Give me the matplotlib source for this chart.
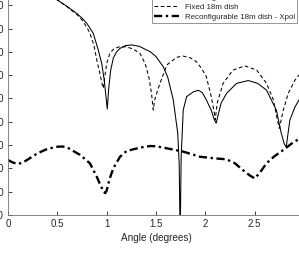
import numpy as np
import matplotlib
matplotlib.use('Agg')
import matplotlib.pyplot as plt

plt.rcParams['font.family'] = ['Liberation Sans', 'DejaVu Sans']

# reconfigurable dish, co-pol (solid)
x_rec = [0, 0.1, 0.2, 0.3, 0.4, 0.5, 0.6, 0.7, 0.75, 0.8, 0.864, 0.915, 0.95, 0.975,
         0.995, 1.006, 1.02, 1.04, 1.067, 1.1, 1.135, 1.19, 1.253, 1.33, 1.44, 1.5,
         1.574, 1.62, 1.675, 1.72, 1.735, 1.745, 1.755, 1.776, 1.81, 1.88, 1.93,
         1.97, 2.01, 2.06, 2.09, 2.11, 2.13, 2.16, 2.215, 2.317, 2.435, 2.53, 2.62,
         2.72, 2.77, 2.8, 2.82, 2.835, 2.857, 2.91, 2.95, 3.0]
y_rec = [0, -0.3, -1.2, -2.7, -4.9, -7.7, -10.5, -13.6, -15.5, -17.8, -22, -29.2, -35, -42,
         -50, -54.5, -46, -38, -32.7, -30, -28.5, -27.3, -27, -27.6, -29.9, -32,
         -36.4, -41, -50.6, -64.8, -78, -110, -75, -55, -49.2, -47.1, -46.5,
         -47.5, -50.6, -55, -59, -60.6, -57, -52, -47.8, -43.5, -42.3, -43.5, -46.4,
         -55, -65, -69.5, -70.8, -66, -59.2, -53.5, -50.6, -48]

# fixed dish (dashed)
x_fix = [0, 0.1, 0.2, 0.3, 0.4, 0.5, 0.6, 0.7, 0.75, 0.8, 0.83, 0.87, 0.9, 0.93, 0.955,
         0.966, 0.98, 1.0, 1.033, 1.07, 1.12, 1.2, 1.27, 1.337, 1.39, 1.43, 1.455, 1.472,
         1.49, 1.54, 1.61, 1.71, 1.776, 1.85, 1.91, 1.96, 2.01, 2.06, 2.09, 2.10, 2.12,
         2.18, 2.28, 2.40, 2.52, 2.62, 2.69, 2.73, 2.75, 2.79, 2.84, 2.91, 2.95, 3.0]
y_fix = [0, -0.3, -1.2, -2.7, -4.9, -7.7, -10.7, -14.0, -16.3, -19.5, -22, -27, -33.5, -39, -44,
         -45.6, -41, -35, -30.5, -28.8, -27.9, -27.8, -28.8, -30.6, -35, -41.3, -48, -54.9,
         -50, -43.5, -35.6, -32.3, -31.8, -32.6, -34.2, -37, -40.6, -49.2, -56, -59.2, -52,
         -43.5, -37.8, -36, -37.8, -43.5, -50.6, -59.2, -62.8, -55, -47.8, -42, -39.9, -38.5]

# reconfigurable dish, cross-pol (thick dash-dot)
x_xp = [0, 0.05, 0.1, 0.15, 0.2, 0.3, 0.4, 0.5, 0.55, 0.6, 0.73, 0.83, 0.9, 0.94, 0.97,
        0.985, 1.0, 1.03, 1.067, 1.135, 1.2, 1.27, 1.35, 1.44, 1.5, 1.6, 1.776, 1.945,
        2.1, 2.215, 2.3, 2.38, 2.45, 2.5, 2.55, 2.62, 2.7, 2.79, 2.87, 2.95, 3.0]
y_xp = [-76.4, -77.5, -78.1, -77.5, -76.2, -73.5, -71.6, -70.7, -70.6, -71, -74.2, -77.8, -83.6, -87.5, -90,
        -90.6, -89.5, -84.5, -80, -75, -72.6, -71.8, -71, -70.4, -70.5, -71.3, -72.8, -75,
        -75.7, -76.1, -77.8, -80.7, -83, -84.3, -82, -77.8, -74.8, -72.1, -69.5, -67.3, -66]

x_ticks = [0, 0.5, 1, 1.5, 2, 2.5]
x_ticklabels = ['0', '0.5', '1', '1.5', '2', '2.5']

W, H = 299, 258
fig = plt.figure(figsize=(W / 100, H / 100), dpi=100)
# axes runs past the top and right edges like the cropped original
ax = fig.add_axes([8 / W, 43 / H, 296 / W, 233 / H])

ax.plot(x_rec, y_rec, color='k', lw=0.75, label='Reconfigurable 18m dish')
ax.plot(x_fix, y_fix, color='k', lw=0.75, linestyle=(0, (3.5, 2.5)), label='Fixed 18m dish')
ax.plot(x_xp, y_xp, color='k', lw=1.7, linestyle=(0, (3.5, 1.5, 1, 1.5)),
        label='Reconfigurable 18m dish - Xpol')

ax.set_xlim(0, 3)
ax.set_ylim(-100, 0)
ax.set_xticks(x_ticks)
ax.set_xticklabels(x_ticklabels)
ax.set_yticks(np.arange(-100, 1, 10))
ax.set_xlabel('Angle (degrees)', fontsize=7.2, color='0.15', labelpad=3)

ax.tick_params(direction='in', length=3, width=0.6, labelsize=7, colors='0.15',
               top=True, right=True, pad=3)
for s in ax.spines.values():
    s.set_color('0.45')
    s.set_linewidth(0.6)

leg = ax.legend(loc='lower right', bbox_to_anchor=(0.977, 0.823), borderaxespad=0,
                fontsize=5.7, frameon=True, fancybox=False, edgecolor='0.4',
                handlelength=3.1, handletextpad=0.8, borderpad=0.25, labelspacing=0.35)
leg.get_frame().set_linewidth(0.6)
for t in leg.get_texts():
    t.set_color('0.15')

plt.savefig('out.png', dpi=100)
